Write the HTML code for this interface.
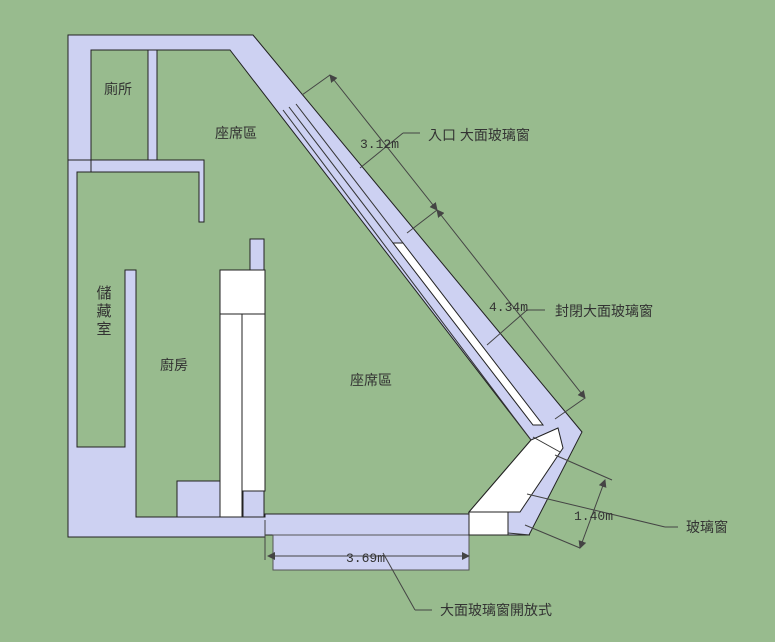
<!DOCTYPE html>
<html><head><meta charset="utf-8"><style>
html,body{margin:0;padding:0;background:#98bb8e;}
svg{display:block}
text{font-family:"Liberation Sans","Noto Sans CJK TC",sans-serif;fill:#333;}
</style></head><body>
<svg width="775" height="642" viewBox="0 0 775 642" xmlns="http://www.w3.org/2000/svg">
<rect width="775" height="642" fill="#98bb8e"/>
<defs><marker id="a" markerWidth="8" markerHeight="8" refX="7" refY="4" orient="auto-start-reverse" markerUnits="userSpaceOnUse"><path d="M0,0 L8,4 L0,8 z" fill="#444"/></marker></defs>
<g fill="#cdd1f2" stroke="#222" stroke-width="1">
<polygon points="68,35 253,35 582,432 529,535 508,535 508,512 469,512 531,440 230,50 91,50 91,160 68,160"/>
<polygon points="68,160 91,160 91,172 77,172 77,447 125,447 125,270 136,270 136,517 265,517 265,514 469,514 469,535 265,535 265,537 68,537"/>
<rect x="148" y="50" width="9" height="110"/>
<polygon points="91,160 204,160 204,222 199,222 199,172 91,172"/>
<rect x="250" y="239" width="14" height="31"/>
<rect x="177" y="481" width="44" height="36"/>
<rect x="243" y="491" width="21" height="26"/>
<rect x="273" y="535" width="196" height="35" stroke="#555"/>
</g>
<g fill="#fff" stroke="#222" stroke-width="1">
<polygon points="393,243 403,243 543,425 533,425"/>
<polygon points="531,440 558,428 563,448 520,512 469,512"/>
<rect x="469" y="512" width="39" height="23"/>
<rect x="220" y="270" width="45" height="44"/>
<rect x="220" y="314" width="22" height="203"/>
<rect x="242" y="314" width="23" height="177"/>
</g>
<g stroke="#333" stroke-width="1" fill="none">
<line x1="289" y1="107" x2="393" y2="243"/>
<line x1="296" y1="104" x2="403" y2="243"/>
<line x1="283" y1="110" x2="531" y2="440"/>
<line x1="533" y1="437" x2="560" y2="452"/>
<line x1="508" y1="533" x2="530" y2="535"/>
</g>
<g stroke="#444" stroke-width="1" fill="none">
<line x1="302" y1="95" x2="330" y2="75"/>
<line x1="407" y1="233" x2="437" y2="210"/>
<line x1="330" y1="75" x2="437" y2="210" marker-start="url(#a)" marker-end="url(#a)"/>
<line x1="437" y1="210" x2="585" y2="398" marker-start="url(#a)" marker-end="url(#a)"/>
<line x1="555" y1="419" x2="585" y2="398"/>
<line x1="360" y1="168" x2="403" y2="133"/><line x1="403" y1="133" x2="420" y2="133"/>
<line x1="487" y1="345" x2="527" y2="310"/><line x1="527" y1="310" x2="545" y2="310"/>
<line x1="555" y1="455" x2="612" y2="480"/>
<line x1="525" y1="525" x2="580" y2="548"/>
<line x1="605" y1="480" x2="580" y2="548" marker-start="url(#a)" marker-end="url(#a)"/>
<line x1="527" y1="494" x2="665" y2="527"/><line x1="665" y1="527" x2="678" y2="527"/>
<line x1="265" y1="520" x2="265" y2="560"/>
<line x1="268" y1="556" x2="469" y2="556" marker-start="url(#a)" marker-end="url(#a)"/>
<line x1="383" y1="553" x2="415" y2="610"/><line x1="415" y1="610" x2="432" y2="610"/>
</g>
<g font-size="14">
<text x="104" y="94">廁所</text>
<text x="215" y="138">座席區</text>
<text x="160" y="370">廚房</text>
<text x="350" y="385">座席區</text>
<text x="428" y="140">入口 大面玻璃窗</text>
<text x="555" y="316">封閉大面玻璃窗</text>
<text x="686" y="532">玻璃窗</text>
<text x="440" y="615">大面玻璃窗開放式</text>
</g>
<g font-size="15" text-anchor="middle"><text x="104" y="298">儲</text><text x="104" y="316">藏</text><text x="104" y="334">室</text></g>
<g font-size="13">
<text x="360" y="148" style="font-family:'Liberation Mono',monospace">3.12m</text>
<text x="489" y="311" style="font-family:'Liberation Mono',monospace">4.34m</text>
<text x="574" y="520" style="font-family:'Liberation Mono',monospace">1.40m</text>
<text x="346" y="562" style="font-family:'Liberation Mono',monospace">3.69m</text>
</g>
</svg>
</body></html>
